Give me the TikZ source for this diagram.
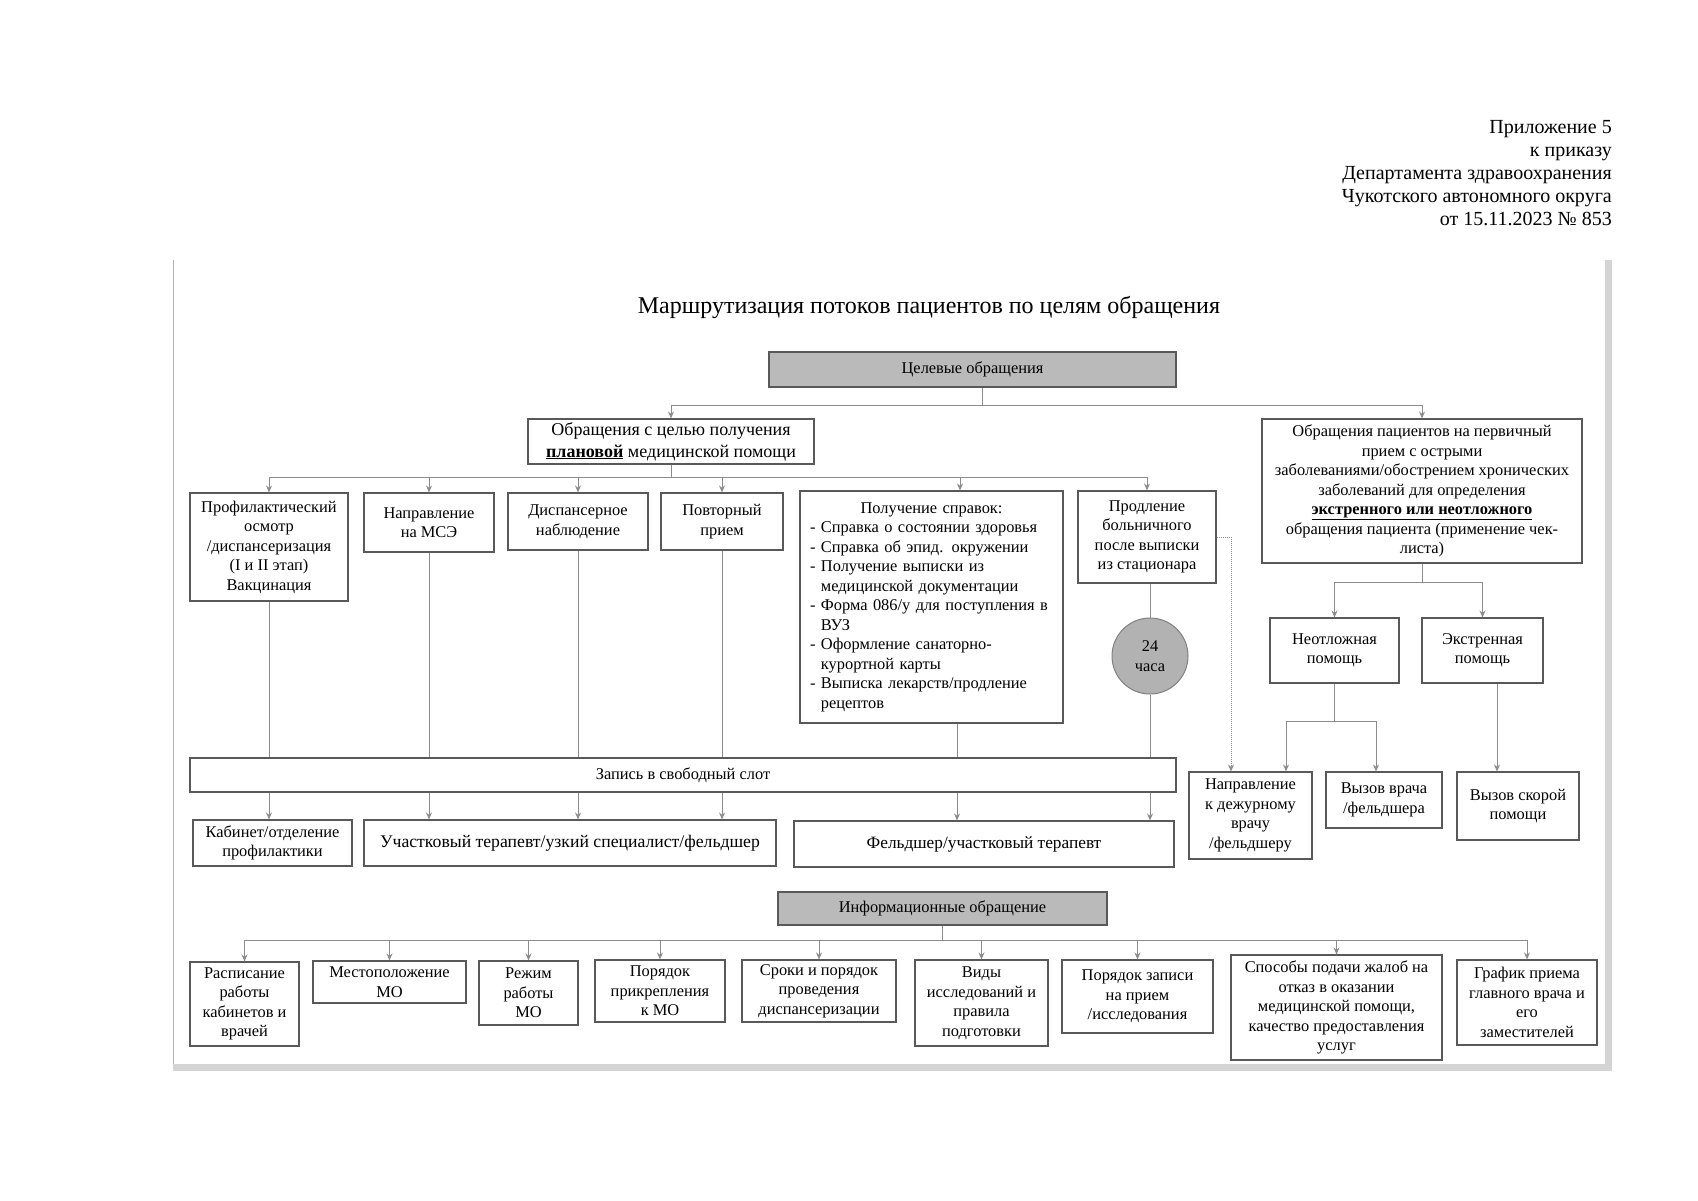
\documentclass[tikz,border=0pt]{standalone}
\usepackage{fontspec}
\setmainfont{Liberation Serif}
\usetikzlibrary{arrows.meta}
\newcommand\fsz[2]{\fontsize{#1}{#2}\selectfont}
\begin{document}
\begin{tikzpicture}[x=1pt,y=-1pt,
  box/.style={draw=black!65, line width=1.1pt, inner sep=0pt, align=center, font=\fsz{16.4}{19.5}},
  graybox/.style={box, fill=black!27},
  ln/.style={draw=black!45, line width=1pt},
  arr/.style={ln, -{Stealth[length=7pt,width=6pt]}},
  dotarr/.style={arr, densely dotted},
]
\useasboundingbox (0,0) rectangle (1698,1200);
% frame
\draw[black!30, line width=1pt] (173,260) -- (173,1066);
\fill[black!17] (1605,260) rectangle (1612,1071);
\fill[black!17] (173,1064) rectangle (1612,1071);
% header
\node[anchor=east, align=right, font=\fsz{20}{23}, inner sep=0pt] (hdr) at (1612,173)
  {Приложение 5\\к приказу\\Департамента здравоохранения\\Чукотского автономного округа\\от 15.11.2023 № 853};
% title
\node[font=\fsz{24}{28}, inner sep=0pt] (title) at (929,307) {Маршрутизация потоков пациентов по целям обращения};
% top level
\node[graybox, minimum width=407pt, minimum height=35pt] (celev) at (972.5,369.5) {Целевые обращения};
\node[box, font=\fsz{18}{22}, minimum width=286pt, minimum height=45pt] (plan) at (671,441.5)
  {Обращения с целью получения\\\underline{\textbf{плановой}} медицинской помощи};
\node[box, minimum width=320pt, minimum height=144pt] (acute) at (1422,491)
  {Обращения пациентов на первичный\\прием с острыми\\заболеваниями/обострением хронических\\заболеваний для определения\\\underline{\textbf{экстренного или неотложного}}\\обращения пациента (применение чек-\\листа)};
% second row
\node[box, minimum width=158pt, minimum height=108pt] (profil) at (269,547)
  {Профилактический\\осмотр\\/диспансеризация\\(I и II этап)\\Вакцинация};
\node[box, minimum width=130pt, minimum height=59pt] (mse) at (429,522.5) {Направление\\на МСЭ};
\node[box, minimum width=140pt, minimum height=57pt] (disp) at (578,521.5) {Диспансерное\\наблюдение};
\node[box, minimum width=122pt, minimum height=57pt] (povt) at (722,521.5) {Повторный\\прием};
\node[box, minimum width=263pt, minimum height=232pt, text width=243pt, align=left] (sprav) at (931.5,607)
  {\makebox[\linewidth]{Получение справок:}\\
   - Справка о состоянии здоровья\\
   - Справка об эпид. окружении\\
   - Получение выписки из\\
   \phantom{- }медицинской документации\\
   - Форма 086/у для поступления в\\
   \phantom{- }ВУЗ\\
   - Оформление санаторно-\\
   \phantom{- }курортной карты\\
   - Выписка лекарств/продление\\
   \phantom{- }рецептов};
\node[box, minimum width=138pt, minimum height=92pt] (prodl) at (1147,537)
  {Продление\\больничного\\после выписки\\из стационара};
\node[circle, draw=black!50, line width=1pt, fill=black!30, minimum size=76pt, inner sep=0pt,
  align=center, font=\fsz{16.4}{19.5}] (c24) at (1150,656) {24\\часа};
% slot row
\node[box, minimum width=986pt, minimum height=34pt] (zapis) at (683,775) {Запись в свободный слот};
% third row
\node[box, minimum width=159pt, minimum height=46pt] (kab) at (272.5,843) {Кабинет/отделение\\профилактики};
\node[box, font=\fsz{17.7}{20}, minimum width=412pt, minimum height=46pt] (uch) at (570,843)
  {Участковый терапевт/узкий специалист/фельдшер};
\node[box, font=\fsz{17.3}{20}, minimum width=380pt, minimum height=46pt] (feld) at (984,844) {Фельдшер/участковый терапевт};
% right branch
\node[box, minimum width=129pt, minimum height=65pt] (neotl) at (1334.5,650.5) {Неотложная\\помощь};
\node[box, minimum width=121pt, minimum height=65pt] (ekstr) at (1482.5,650.5) {Экстренная\\помощь};
\node[box, minimum width=123pt, minimum height=87pt] (dezh) at (1250.5,815.5)
  {Направление\\к дежурному\\врачу\\/фельдшеру};
\node[box, minimum width=116pt, minimum height=56pt] (vrach) at (1384,800) {Вызов врача\\/фельдшера};
\node[box, minimum width=122pt, minimum height=68pt] (skor) at (1518,806) {Вызов скорой\\помощи};
% info section
\node[graybox, minimum width=329pt, minimum height=33pt] (inform) at (942.5,908.5) {Информационные обращение};
\node[box, minimum width=109pt, minimum height=84pt] (b1) at (244.5,1004) {Расписание\\работы\\кабинетов и\\врачей};
\node[box, minimum width=153pt, minimum height=42pt] (b2) at (389.5,982) {Местоположение\\МО};
\node[box, minimum width=99pt, minimum height=64pt] (b3) at (528.5,993) {Режим\\работы\\МО};
\node[box, minimum width=130pt, minimum height=62pt] (b4) at (660,991) {Порядок\\прикрепления\\к МО};
\node[box, minimum width=154pt, minimum height=62pt] (b5) at (819,991) {Сроки и порядок\\проведения\\диспансеризации};
\node[box, minimum width=133pt, minimum height=86pt] (b6) at (981.5,1003) {Виды\\исследований и\\правила\\подготовки};
\node[box, minimum width=151pt, minimum height=73pt] (b7) at (1137.5,996.5) {Порядок записи\\на прием\\/исследования};
\node[box, minimum width=211pt, minimum height=105pt] (b8) at (1336.5,1007.5)
  {Способы подачи жалоб на\\отказ в оказании\\медицинской помощи,\\качество предоставления\\услуг};
\node[box, minimum width=140pt, minimum height=85pt] (b9) at (1527,1002.5) {График приема\\главного врача и\\его\\заместителей};
% junction coordinates
\coordinate (j1) at (982,405);
\coordinate (j2) at (671,477);
\coordinate (j3) at (1422,582);
\coordinate (j4) at (1334.5,721);
\coordinate (j5) at (942.5,940);
\coordinate (sx) at (957,700);
% connectors top
\draw[ln] ([xshift=9.5pt]celev.south) -- (j1);
\draw[arr] (j1) -| (plan.north);
\draw[arr] (j1) -| (acute.north);
\draw[ln] (plan.south) -- (j2);
\draw[arr] (j2) -| (profil.north);
\draw[arr] (j2) -| (mse.north);
\draw[arr] (j2) -| (disp.north);
\draw[arr] (j2) -| (povt.north);
\draw[arr] (j2) -| ([xshift=28.5pt]sprav.north);
\draw[arr] (j2) -| (prodl.north);
% to slot
\draw[ln] (profil.south) -- (profil.south |- zapis.north);
\draw[ln] (mse.south) -- (mse.south |- zapis.north);
\draw[ln] (disp.south) -- (disp.south |- zapis.north);
\draw[ln] (povt.south) -- (povt.south |- zapis.north);
\draw[ln] (sx |- sprav.south) -- (sx |- zapis.north);
\draw[ln] (c24.north |- prodl.south) -- (c24.north);
\draw[ln] (c24.south) -- (c24.south |- zapis.north);
% from slot
\draw[arr] (zapis.south -| profil.south) -- (kab.north -| profil.south);
\draw[arr] (zapis.south -| mse.south) -- (uch.north -| mse.south);
\draw[arr] (zapis.south -| disp.south) -- (uch.north -| disp.south);
\draw[arr] (zapis.south -| povt.south) -- (uch.north -| povt.south);
\draw[arr] (zapis.south -| sx) -- (feld.north -| sx);
\draw[arr] (zapis.south -| c24.south) -- (feld.north -| c24.south);
% right branch
\draw[dotarr] (prodl.east) -| ([xshift=-19.5pt]dezh.north);
\draw[ln] (acute.south) -- (j3);
\draw[arr] (j3) -| (neotl.north);
\draw[arr] (j3) -| (ekstr.north);
\draw[ln] (neotl.south) -- (j4);
\draw[arr] (j4) -| ([xshift=35.5pt]dezh.north);
\draw[arr] (j4) -| ([xshift=-8pt]vrach.north);
\draw[arr] ([xshift=14.5pt]ekstr.south) -- ([xshift=14.5pt]ekstr.south |- skor.north);
% info branch
\draw[ln] (inform.south) -- (j5);
\foreach \b in {b1,b2,b3,b4,b5,b6,b7,b8,b9} {\draw[arr] (j5) -| (\b.north);}
\end{tikzpicture}
\end{document}
